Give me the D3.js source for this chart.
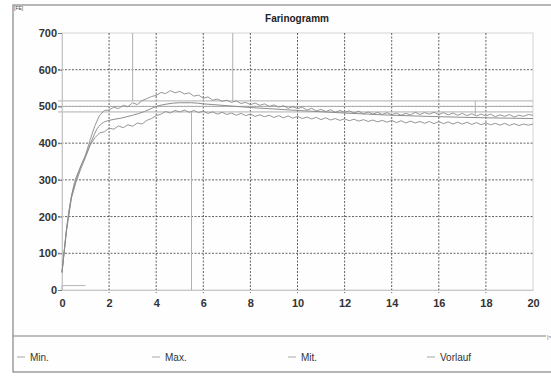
<!DOCTYPE html>
<html>
<head>
<meta charset="utf-8">
<script src="https://cdn.jsdelivr.net/npm/d3@7"></script>
<style>
  html, body { margin: 0; padding: 0; background: #ffffff; }
  svg { display: block; font-family: "Liberation Sans", Arial, sans-serif; }
</style>
</head>
<body>
<svg id="chart" width="551" height="377"></svg>
<script>
// Farinogramm: consistency [FE] over time (min), three torque traces + pre-run
const xTicks = [0, 2, 4, 6, 8, 10, 12, 14, 16, 18, 20];
const yTicks = [0, 100, 200, 300, 400, 500, 600, 700];

// sampling times (min) of the Max./Min. traces, every 0.2 min
const sampleTimes = [
  0.0, 0.2, 0.4, 0.6, 0.8, 1.0, 1.2, 1.4, 1.6, 1.8,
  2.0, 2.2, 2.4, 2.6, 2.8, 3.0, 3.2, 3.4, 3.6, 3.8,
  4.0, 4.2, 4.4, 4.6, 4.8, 5.0, 5.2, 5.4, 5.6, 5.8,
  6.0, 6.2, 6.4, 6.6, 6.8, 7.0, 7.2, 7.4, 7.6, 7.8,
  8.0, 8.2, 8.4, 8.6, 8.8, 9.0, 9.2, 9.4, 9.6, 9.8,
  10.0, 10.2, 10.4, 10.6, 10.8, 11.0, 11.2, 11.4, 11.6, 11.8,
  12.0, 12.2, 12.4, 12.6, 12.8, 13.0, 13.2, 13.4, 13.6, 13.8,
  14.0, 14.2, 14.4, 14.6, 14.8, 15.0, 15.2, 15.4, 15.6, 15.8,
  16.0, 16.2, 16.4, 16.6, 16.8, 17.0, 17.2, 17.4, 17.6, 17.8,
  18.0, 18.2, 18.4, 18.6, 18.8, 19.0, 19.2, 19.4, 19.6, 19.8,
  20.0
];

const maxValues = [
  48, 170, 255, 300, 338, 368, 410, 448, 476, 489,
  490, 498, 494, 503, 499, 510, 505, 516, 521, 527,
  530, 538, 535, 543, 537, 541, 534, 537, 528, 531,
  522, 526, 517, 520, 514, 517, 511, 515, 508, 511,
  505, 509, 503, 507, 500, 504, 498, 502, 495, 499,
  494, 498, 490, 495, 488, 492, 486, 491, 484, 489,
  484, 488, 482, 487, 480, 485, 479, 484, 478, 483,
  477, 482, 476, 481, 477, 484, 478, 483, 479, 484,
  478, 483, 477, 482, 476, 481, 475, 480, 474, 479,
  474, 479, 472, 477, 473, 478, 471, 476, 473, 478,
  476
];

const minValues = [
  48, 165, 250, 295, 330, 362, 395, 415, 428, 431,
  441, 438, 447, 442, 450, 446, 455, 452, 462, 467,
  475, 479, 486, 482, 489, 485, 490, 484, 489, 483,
  487, 481, 485, 479, 484, 478, 482, 476, 481, 475,
  479, 473, 477, 472, 476, 470, 475, 469, 474, 468,
  473, 467, 471, 466, 470, 464, 469, 463, 467, 462,
  466, 461, 465, 460, 464, 459, 463, 458, 462, 457,
  462, 456, 461, 455, 460, 455, 459, 454, 459, 453,
  459, 453, 458, 452, 457, 452, 457, 451, 456, 450,
  455, 450, 454, 449, 454, 448, 453, 448, 452, 449,
  452
];

// averaged trace (smooth)
const midTimes  = [0, 0.25, 0.5, 0.75, 1.0, 1.25, 1.5, 1.75, 2.0, 2.5, 3.0, 3.5, 4.0, 4.5, 5.0, 5.5, 6.0, 7.0, 8.0, 9.0, 10, 12, 14, 16, 18, 20];
const midValues = [48, 195, 285, 330, 365, 405, 440, 456, 462, 468, 476, 486, 500, 507, 510, 510, 507, 502, 497, 493, 489, 482, 476, 472, 469, 467];

// pre-run trace
const preTimes  = [0, 0, 1.0];
const preValues = [0, 12, 12];

// horizontal reference band (FE) and marker lines [time, from, to]
const bandLevels = [515, 500, 485];
const markers = [[3.0, 515, 700], [7.25, 515, 700], [5.5, 0, 485], [17.55, 478, 515]];

const legendItems = ["Min.", "Max.", "Mit.", "Vorlauf"];
const legendX = [17, 152, 288, 427];

const svg = d3.select("#chart");
const x = d3.scaleLinear().domain([0, 20]).range([62, 533]);
const y = d3.scaleLinear().domain([0, 700]).range([290, 33]);

// outer frame
svg.append("rect").attr("x", 13).attr("y", 5).attr("width", 600).attr("height", 367)
  .attr("fill", "#fefefe").attr("stroke", "#6f6f6f").attr("stroke-width", 1);
svg.append("text").attr("x", 14).attr("y", 10).attr("font-size", 5).attr("fill", "#444").text("[FE]");

svg.append("text").attr("x", 297).attr("y", 22).attr("text-anchor", "middle")
  .attr("font-size", 10).attr("font-weight", "bold").attr("fill", "#222").text("Farinogramm");

// plot border (light)
svg.append("rect").attr("x", x(0)).attr("y", y(700)).attr("width", x(20) - x(0)).attr("height", y(0) - y(700))
  .attr("fill", "none").attr("stroke", "#d4d4d4").attr("stroke-width", 1);

// dashed grid
const grid = svg.append("g").attr("stroke", "#3a3a3a").attr("stroke-width", 0.8).attr("stroke-dasharray", "2,1.5");
grid.selectAll("line.v").data(xTicks.filter(t => t > 0 && t < 20)).join("line")
  .attr("x1", d => x(d)).attr("x2", d => x(d)).attr("y1", y(700)).attr("y2", y(0) + 3);
grid.selectAll("line.h").data(yTicks.filter(t => t > 0 && t < 700)).join("line")
  .attr("x1", x(0) - 4).attr("x2", x(20)).attr("y1", d => y(d)).attr("y2", d => y(d));

// reference band and markers
const ref = svg.append("g").attr("stroke", "#b0b0b0").attr("stroke-width", 1);
ref.selectAll("line.b").data(bandLevels).join("line")
  .attr("x1", x(0) - 4).attr("x2", x(20)).attr("y1", d => y(d)).attr("y2", d => y(d));
ref.selectAll("line.m").data(markers).join("line")
  .attr("x1", d => x(d[0])).attr("x2", d => x(d[0])).attr("y1", d => y(d[1])).attr("y2", d => y(d[2]));

// axes
const yAxis = svg.append("g").attr("transform", `translate(${x(0)},0)`)
  .call(d3.axisLeft(y).tickValues(yTicks).tickSize(4).tickPadding(1));
const xAxis = svg.append("g").attr("transform", `translate(0,${y(0)})`)
  .call(d3.axisBottom(x).tickValues(xTicks).tickSize(0).tickPadding(9));
[yAxis, xAxis].forEach(g => {
  g.select(".domain").attr("stroke", "#c8c8c8");
  g.selectAll(".tick line").attr("stroke", "#777");
  g.selectAll("text").attr("font-size", 11).attr("font-weight", "bold").attr("fill", "#333")
    .attr("font-family", "'Liberation Sans', Arial, sans-serif");
});

// traces
const line = d3.line().x(d => x(d[0])).y(d => y(d[1]));
const maxSeries = sampleTimes.map((t, i) => [t, maxValues[i]]);
const minSeries = sampleTimes.map((t, i) => [t, minValues[i]]);
const midSeries = midTimes.map((t, i) => [t, midValues[i]]);
const preSeries = preTimes.map((t, i) => [t, preValues[i]]);

svg.append("path").datum(preSeries).attr("d", line).attr("fill", "none").attr("stroke", "#b5b5b5").attr("stroke-width", 1);
svg.append("path").datum(midSeries).attr("d", line.curve(d3.curveMonotoneX)).attr("fill", "none").attr("stroke", "#8e8e8e").attr("stroke-width", 1);
line.curve(d3.curveLinear);
svg.append("path").datum(minSeries).attr("d", line).attr("fill", "none").attr("stroke", "#8a8a8a").attr("stroke-width", 0.9);
svg.append("path").datum(maxSeries).attr("d", line).attr("fill", "none").attr("stroke", "#8a8a8a").attr("stroke-width", 0.9);

// legend area
svg.append("line").attr("x1", 13).attr("x2", 546).attr("y1", 336).attr("y2", 336)
  .attr("stroke", "#808080").attr("stroke-width", 1);
svg.append("text").attr("x", 547).attr("y", 339).attr("font-size", 5).attr("fill", "#555").text("|>");

const legend = svg.append("g").selectAll("g").data(legendItems).join("g")
  .attr("transform", (d, i) => `translate(${legendX[i]},357)`);
legend.append("line").attr("x1", 0).attr("x2", 8).attr("stroke", "#a8a8a8").attr("stroke-width", 1);
legend.append("text").attr("x", 13).attr("y", 3.5).attr("font-size", 10).attr("fill", "#333").text(d => d);
</script>
</body>
</html>
